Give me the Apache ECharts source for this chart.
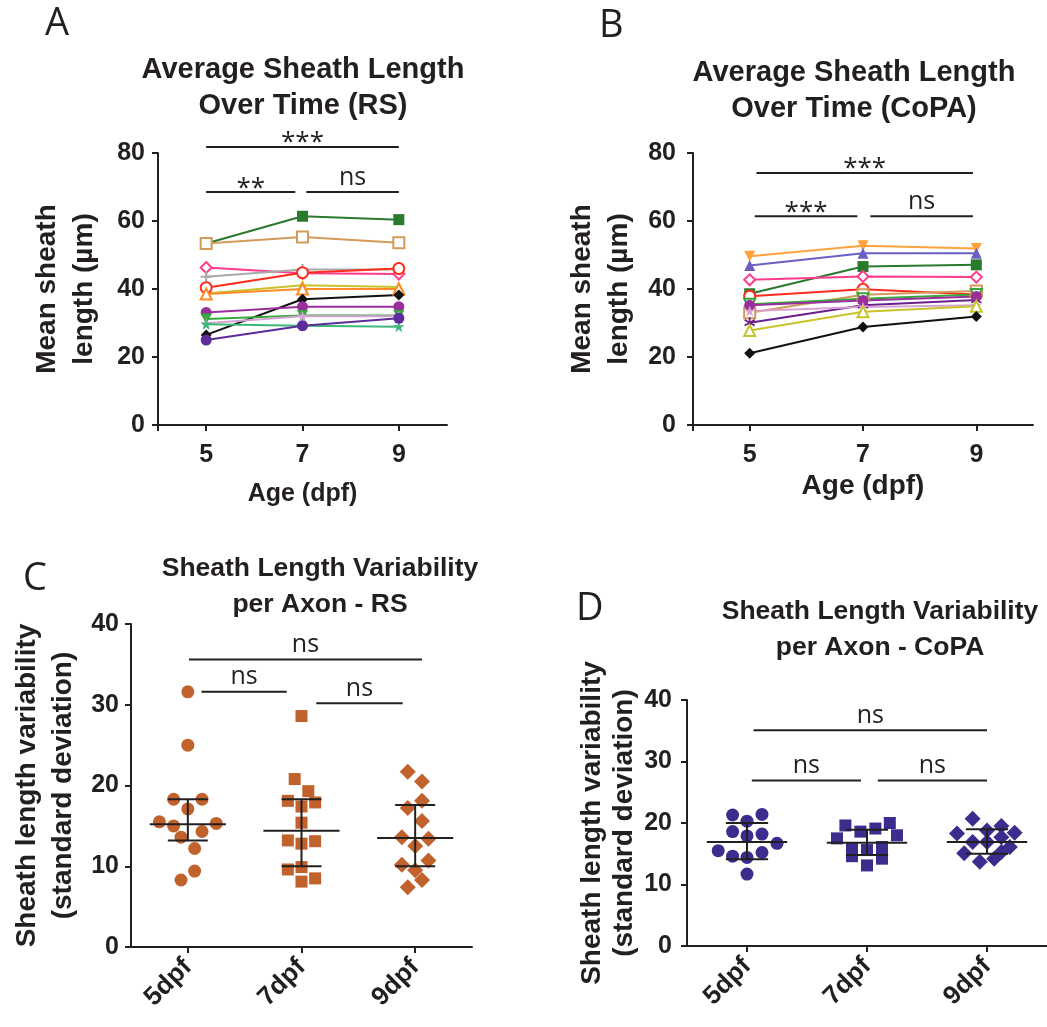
<!DOCTYPE html>
<html>
<head>
<meta charset="utf-8">
<script src="https://cdn.jsdelivr.net/npm/echarts@6/dist/echarts.min.js"></script>
<style>
html,body{margin:0;padding:0;background:#fff;}
#chart{width:1047px;height:1027px;}
</style>
</head>
<body>
<div id="chart"></div>
<script>
// ---------- DATA ----------
const ages = [5, 7, 9];
// Panel A (RS): mean sheath length per axon (µm)
const rs1 = [53.4, 61.4, 60.4];
const rs2 = [53.4, 55.3, 53.6];
const rs3 = [46.3, 44.6, 44.4];
const rs4 = [43.6, 45.7, 45.7];
const rs5 = [40.4, 44.8, 46.0];
const rs6 = [38.7, 41.1, 40.6];
const rs7 = [38.5, 40.0, 40.0];
const rs8 = [26.5, 37.0, 38.2];
const rs9 = [33.1, 34.8, 34.8];
const rs10 = [31.2, 32.2, 32.2];
const rs11 = [29.9, 32.0, 32.0];
const rs12 = [29.6, 29.2, 28.9];
const rs13 = [25.0, 29.2, 31.4];
// Panel B (CoPA)
const copa1 = [49.6, 52.7, 51.9];
const copa2 = [46.9, 50.5, 50.5];
const copa3 = [38.6, 46.6, 47.1];
const copa4 = [42.7, 43.7, 43.5];
const copa5 = [37.9, 39.9, 38.4];
const copa6 = [33.0, 38.3, 39.4];
const copa7 = [35.5, 37.1, 38.4];
const copa8 = [30.1, 35.2, 36.8];
const copa9 = [35.2, 36.6, 37.8];
const copa10 = [33.5, 34.7, 35.2];
const copa11 = [27.8, 33.3, 34.9];
const copa12 = [21.1, 28.8, 31.9];
// Panel C (RS): SD per axon, with horizontal jitter (category units)
const dayCats = ['5dpf', '7dpf', '9dpf'];
const rsSd5 = [31.6, 25.0, 18.3, 18.3, 17.1, 15.5, 15.3, 15.0, 13.6, 14.3, 12.2, 9.4, 8.3];
const rsJit5 = [0, 0, -0.125, 0.125, 0, -0.25, 0.25, -0.125, -0.06, 0.125, 0.06, 0.06, -0.06];
const rsSd7 = [28.6, 20.8, 19.3, 18.1, 17.9, 17.4, 15.4, 13.2, 13.1, 12.8, 9.6, 9.9, 8.5, 8.1];
const rsJit7 = [0, -0.06, 0.06, -0.12, 0.12, 0, 0, -0.12, 0.12, 0, -0.12, 0, 0.12, 0];
const rsSd9 = [21.7, 20.5, 17.2, 18.1, 15.6, 13.6, 13.4, 12.5, 10.2, 10.7, 9.5, 8.3, 7.4];
const rsJit9 = [-0.065, 0.06, -0.065, 0.06, 0.06, -0.117, 0.117, 0, -0.117, 0.117, 0, 0.06, -0.065];
const rsMedian = [15.2, 14.4, 13.5];
const rsQ1 = [13.2, 10.0, 10.0];
const rsQ3 = [18.3, 18.3, 17.6];
// Panel D (CoPA)
const copaSd5 = [21.3, 21.4, 20.3, 18.6, 17.9, 18.2, 16.7, 15.5, 14.6, 15.2, 14.4, 11.7];
const copaJit5 = [-0.12, 0.125, 0, -0.12, 0, 0.125, 0.25, -0.24, -0.12, 0.125, 0, 0];
const copaSd7 = [20.0, 19.6, 19.1, 18.6, 17.5, 18.0, 15.9, 16.1, 15.6, 14.6, 14.2, 13.1];
const copaJit7 = [0.19, -0.18, 0.07, -0.055, -0.25, 0.25, -0.125, 0.125, 0, -0.125, 0.125, 0];
const copaSd9 = [20.7, 18.8, 19.5, 18.3, 18.4, 17.7, 16.9, 16.9, 16.1, 15.1, 15.3, 13.7, 14.2];
const copaJit9 = [-0.12, 0, 0.12, -0.25, 0.23, 0.12, -0.12, 0, 0.19, -0.19, 0.12, -0.06, 0.06];
const copaMedian = [16.9, 16.8, 16.9];
const copaQ1 = [14.1, 14.8, 15.0];
const copaQ3 = [20.0, 18.9, 19.0];
// Significance brackets
const sigA_x1 = [5, 5, 7.08], sigA_x2 = [9, 6.85, 9], sigA_y = [81.8, 68.5, 68.5], sigA_txt = ['***', '**', 'ns'];
const sigB_x1 = [5.12, 5.09, 7.13], sigB_x2 = [8.94, 6.9, 8.94], sigB_y = [74.1, 61.4, 61.4], sigB_txt = ['***', '***', 'ns'];
const sigC_x1 = [0.01, 0.12, 1.13], sigC_x2 = [2.06, 0.87, 1.89], sigC_y = [35.6, 31.6, 30.2], sigC_txt = ['ns', 'ns', 'ns'];
const sigD_x1 = [0.055, 0.04, 1.09], sigD_x2 = [2.0, 0.95, 2.0], sigD_y = [35.1, 26.9, 26.9], sigD_txt = ['ns', 'ns', 'ns'];

// ---------- STYLES ----------
const INK = '#231f20';
const FONT = '"Liberation Sans", Arial, Helvetica, sans-serif';
const FONT2 = '"Open Sans", "Noto Sans", sans-serif';
const PLUS = 'path://M4,0H6V4H10V6H6V10H4V6H0V4H4Z';
const STAR = 'path://M5,0L6.2,3.4L10,3.2L7,5.5L8.1,9.2L5,7L1.9,9.2L3,5.5L0,3.2L3.8,3.4Z';
const ASTER = 'path://M4.3,0H5.7V3.3L8.6,1.6L9.3,2.8L6.4,4.5L9.3,6.2L8.6,7.4L5.7,5.7V9H4.3V5.7L1.4,7.4L0.7,6.2L3.6,4.5L0.7,2.8L1.4,1.6L4.3,3.3Z';

const rsSeriesList = [
  {d: rs1, c: '#2a7a2e', s: 'rect', fill: true},
  {d: rs2, c: '#d39a58', s: 'rect', fill: false},
  {d: rs3, c: '#ff3b8d', s: 'diamond', fill: false},
  {d: rs4, c: '#a9a9a9', s: PLUS, fill: true},
  {d: rs5, c: '#ff2b1c', s: 'circle', fill: false},
  {d: rs6, c: '#c9c32a', s: 'triangle', fill: true},
  {d: rs7, c: '#ff8a26', s: 'triangle', fill: false},
  {d: rs8, c: '#111111', s: 'diamond', fill: true},
  {d: rs9, c: '#9a2f9c', s: 'circle', fill: true},
  {d: rs10, c: '#35a83a', s: 'triangle', fill: true, rot: 180},
  {d: rs11, c: '#d8a2d6', s: STAR, fill: true},
  {d: rs12, c: '#3cb87a', s: STAR, fill: true},
  {d: rs13, c: '#5b2c9a', s: 'circle', fill: true}
];
const copaSeriesList = [
  {d: copa1, c: '#ffa23e', s: 'triangle', fill: true, rot: 180},
  {d: copa2, c: '#6a60c2', s: 'triangle', fill: true},
  {d: copa3, c: '#2a7a2e', s: 'rect', fill: true},
  {d: copa4, c: '#ff3b8d', s: 'diamond', fill: false},
  {d: copa5, c: '#ff2b1c', s: 'circle', fill: false},
  {d: copa6, c: '#d39a58', s: 'rect', fill: false},
  {d: copa7, c: '#35a83a', s: 'triangle', fill: false, rot: 180},
  {d: copa8, c: '#6b1f8c', s: ASTER, fill: true},
  {d: copa9, c: '#9a2f9c', s: 'circle', fill: true},
  {d: copa10, c: '#d8a2d6', s: STAR, fill: true},
  {d: copa11, c: '#c9c32a', s: 'triangle', fill: false},
  {d: copa12, c: '#111111', s: 'diamond', fill: true}
];

function lineSeries(list, gi) {
  return list.map(o => ({
    type: 'line', xAxisIndex: gi, yAxisIndex: gi,
    data: ages.map((a, i) => [a, o.d[i]]),
    symbol: o.s, symbolSize: 11, symbolRotate: o.rot || 0,
    showAllSymbol: true,
    lineStyle: {color: o.c, width: 2},
    itemStyle: {color: o.fill ? o.c : '#ffffff', borderColor: o.c, borderWidth: o.fill ? 0 : 2},
    emphasis: {disabled: true}, animation: false
  }));
}

function sigSeries(gi, x1, x2, y, txt) {
  return {
    type: 'custom', xAxisIndex: gi, yAxisIndex: gi, clip: false, animation: false, z: 5,
    data: x1.map((v, i) => [v, x2[i], y[i]]),
    renderItem: function (params, api) {
      const p1 = api.coord([api.value(0), api.value(2)]);
      const p2 = api.coord([api.value(1), api.value(2)]);
      const t = txt[params.dataIndex];
      const star = t.indexOf('*') >= 0;
      return {
        type: 'group', children: [
          {type: 'line', shape: {x1: p1[0], y1: p1[1], x2: p2[0], y2: p2[1]}, style: {stroke: INK, lineWidth: 2}},
          {type: 'text', x: (p1[0] + p2[0]) / 2, y: p1[1] + (star ? 9 : -2),
            style: {text: t, fill: INK, font: (star ? '26px ' : '25px ') + FONT2, align: 'center', verticalAlign: 'bottom'}}
        ]
      };
    }
  };
}

function scatterSeries(gi, cat, vals, jit, color, symbol, size) {
  return {
    type: 'scatter', xAxisIndex: gi, yAxisIndex: gi, animation: false,
    data: vals.map((v, i) => [cat + jit[i], v]),
    symbol: symbol, symbolSize: size,
    itemStyle: {color: color, opacity: 1}, emphasis: {disabled: true}
  };
}

function errSeries(gi, med, q1, q3) {
  return {
    type: 'custom', xAxisIndex: gi, yAxisIndex: gi, animation: false, z: 6,
    data: med.map((m, i) => [i, m, q1[i], q3[i]]),
    renderItem: function (params, api) {
      const x = api.value(0);
      const pm = api.coord([x, api.value(1)]);
      const pl = api.coord([x, api.value(2)]);
      const ph = api.coord([x, api.value(3)]);
      const wMed = api.size([0.335, 0])[0];
      const wCap = api.size([0.176, 0])[0];
      const st = {stroke: INK, lineWidth: 2};
      return {
        type: 'group', children: [
          {type: 'line', shape: {x1: pm[0] - wMed, y1: pm[1], x2: pm[0] + wMed, y2: pm[1]}, style: st},
          {type: 'line', shape: {x1: pl[0] - wCap, y1: pl[1], x2: pl[0] + wCap, y2: pl[1]}, style: st},
          {type: 'line', shape: {x1: ph[0] - wCap, y1: ph[1], x2: ph[0] + wCap, y2: ph[1]}, style: st},
          {type: 'line', shape: {x1: pl[0], y1: pl[1], x2: ph[0], y2: ph[1]}, style: st}
        ]
      };
    }
  };
}

const axLine = {show: true, onZero: false, lineStyle: {color: INK, width: 2}};
const axTick = {show: true, length: 6, lineStyle: {color: INK, width: 2}};
const lab = {color: INK, fontFamily: FONT, fontWeight: 'bold', fontSize: 25};

function yAxis(gi, max, interval, name, gap, lineH, margin) {
  return {
    type: 'value', gridIndex: gi, min: 0, max: max, interval: interval,
    axisLine: axLine, axisTick: axTick, splitLine: {show: false},
    axisLabel: Object.assign({margin: margin}, lab),
    name: name, nameLocation: 'middle', nameGap: gap,
    nameTextStyle: {color: INK, fontFamily: FONT, fontWeight: 'bold', fontSize: 28, lineHeight: lineH}
  };
}

function titleObj(text, x, y, size) {
  return {text: text, left: x, top: y, textAlign: 'center', padding: 0,
    textStyle: {color: INK, fontFamily: FONT, fontWeight: 'bold', fontSize: size, lineHeight: 36}};
}
function letterObj(text, x, y) {
  return {text: text, left: x, top: y, padding: 0,
    textStyle: {color: INK, fontFamily: FONT2, fontWeight: 'normal', fontSize: 38, lineHeight: 40}};
}

const catLabel = Object.assign({customValues: [0, 1, 2], margin: 16, rotate: 45,
  formatter: v => dayCats[Math.round(v)]}, lab, {fontSize: 26});

const option = {
  backgroundColor: '#ffffff',
  animation: false,
  title: [
    letterObj('A', 45, 4), letterObj('B', 599, 6), letterObj('C', 23, 559), letterObj('D', 576, 589),
    titleObj('Average Sheath Length\nOver Time (RS)', 303, 52, 29),
    titleObj('Average Sheath Length\nOver Time (CoPA)', 854, 55, 29),
    titleObj('Sheath Length Variability\nper Axon - RS', 320, 551, 26.5),
    titleObj('Sheath Length Variability\nper Axon - CoPA', 880, 594, 26.5)
  ],
  grid: [
    {left: 158, top: 153, width: 289, height: 272},
    {left: 693, top: 153, width: 340, height: 272},
    {left: 131, top: 624, width: 341, height: 323},
    {left: 687, top: 700, width: 360, height: 246}
  ],
  xAxis: [
    {type: 'value', gridIndex: 0, min: 4, max: 10, interval: 1, splitLine: {show: false},
      axisLine: axLine, axisTick: Object.assign({customValues: [4, 5, 7, 9]}, axTick),
      axisLabel: Object.assign({customValues: ages, margin: 18}, lab),
      name: 'Age (dpf)', nameLocation: 'middle', nameGap: 57,
      nameTextStyle: {color: INK, fontFamily: FONT, fontWeight: 'bold', fontSize: 25}},
    {type: 'value', gridIndex: 1, min: 4, max: 10, interval: 1, splitLine: {show: false},
      axisLine: axLine, axisTick: Object.assign({customValues: [4, 5, 7, 9]}, axTick),
      axisLabel: Object.assign({customValues: ages, margin: 18}, lab),
      name: 'Age (dpf)', nameLocation: 'middle', nameGap: 47,
      nameTextStyle: {color: INK, fontFamily: FONT, fontWeight: 'bold', fontSize: 28}},
    {type: 'value', gridIndex: 2, min: -0.5, max: 2.5, interval: 0.5, splitLine: {show: false},
      axisLine: axLine, axisTick: Object.assign({customValues: [0, 1, 2]}, axTick),
      axisLabel: catLabel},
    {type: 'value', gridIndex: 3, min: -0.5, max: 2.5, interval: 0.5, splitLine: {show: false},
      axisLine: axLine, axisTick: Object.assign({customValues: [0, 1, 2]}, axTick),
      axisLabel: catLabel}
  ],
  yAxis: [
    yAxis(0, 80, 20, 'Mean sheath\nlength (µm)', 55, 37, 13),
    yAxis(1, 80, 20, 'Mean sheath\nlength (µm)', 55, 37, 17),
    yAxis(2, 40, 10, 'Sheath length variability\n(standard deviation)', 50, 36, 12),
    yAxis(3, 40, 10, 'Sheath length variability\n(standard deviation)', 43, 32, 15)
  ],
  series: [].concat(
    lineSeries(rsSeriesList, 0),
    lineSeries(copaSeriesList, 1),
    [
      sigSeries(0, sigA_x1, sigA_x2, sigA_y, sigA_txt),
      sigSeries(1, sigB_x1, sigB_x2, sigB_y, sigB_txt),
      sigSeries(2, sigC_x1, sigC_x2, sigC_y, sigC_txt),
      sigSeries(3, sigD_x1, sigD_x2, sigD_y, sigD_txt),
      scatterSeries(2, 0, rsSd5, rsJit5, '#c1612b', 'circle', 13),
      scatterSeries(2, 1, rsSd7, rsJit7, '#c1612b', 'rect', 12),
      scatterSeries(2, 2, rsSd9, rsJit9, '#c1612b', 'diamond', 16),
      errSeries(2, rsMedian, rsQ1, rsQ3),
      scatterSeries(3, 0, copaSd5, copaJit5, '#3b2d8e', 'circle', 13),
      scatterSeries(3, 1, copaSd7, copaJit7, '#3b2d8e', 'rect', 12),
      scatterSeries(3, 2, copaSd9, copaJit9, '#3b2d8e', 'diamond', 16),
      errSeries(3, copaMedian, copaQ1, copaQ3)
    ]
  )
};

const chart = echarts.init(document.getElementById('chart'), null, {renderer: 'canvas'});
chart.setOption(option);
</script>
</body>
</html>
